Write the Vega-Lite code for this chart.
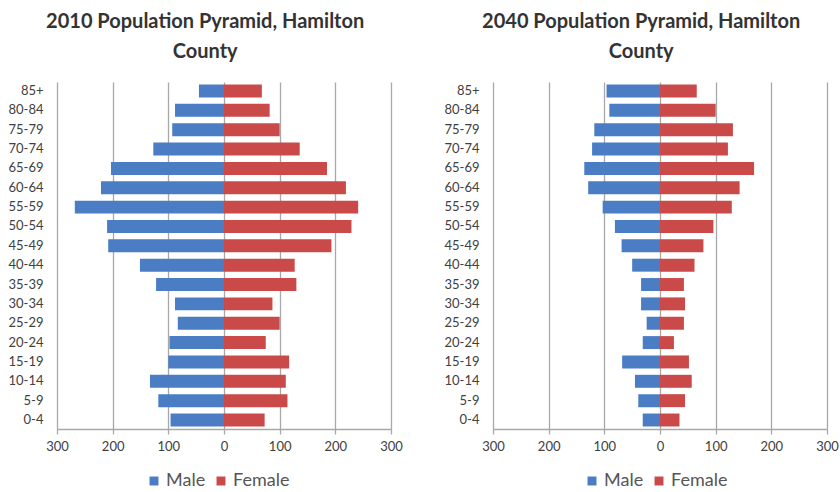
{
  "$schema": "https://vega.github.io/schema/vega-lite/v6.json",
  "background": "white",
  "padding": {"left": 8, "top": 12, "right": 2, "bottom": 0},
  "config": {
    "font": "Lato",
    "view": {"stroke": null},
    "concat": {"spacing": 41},
    "title": {"fontSize": 20, "fontWeight": "bold", "color": "#333333", "lineHeight": 30, "anchor": "middle", "frame": "bounds", "offset": 20},
    "axis": {"labelColor": "#404040", "labelFontSize": 13, "title": null}
  },
  "datasets": {
    "pyramid": [
      {"year": "2010", "age": "85+", "sex": "Male", "pop": 45},
      {"year": "2010", "age": "80-84", "sex": "Male", "pop": 88},
      {"year": "2010", "age": "75-79", "sex": "Male", "pop": 93},
      {"year": "2010", "age": "70-74", "sex": "Male", "pop": 127},
      {"year": "2010", "age": "65-69", "sex": "Male", "pop": 203},
      {"year": "2010", "age": "60-64", "sex": "Male", "pop": 221},
      {"year": "2010", "age": "55-59", "sex": "Male", "pop": 268},
      {"year": "2010", "age": "50-54", "sex": "Male", "pop": 210},
      {"year": "2010", "age": "45-49", "sex": "Male", "pop": 208},
      {"year": "2010", "age": "40-44", "sex": "Male", "pop": 151},
      {"year": "2010", "age": "35-39", "sex": "Male", "pop": 122},
      {"year": "2010", "age": "30-34", "sex": "Male", "pop": 88},
      {"year": "2010", "age": "25-29", "sex": "Male", "pop": 83},
      {"year": "2010", "age": "20-24", "sex": "Male", "pop": 98},
      {"year": "2010", "age": "15-19", "sex": "Male", "pop": 100},
      {"year": "2010", "age": "10-14", "sex": "Male", "pop": 133},
      {"year": "2010", "age": "5-9", "sex": "Male", "pop": 118},
      {"year": "2010", "age": "0-4", "sex": "Male", "pop": 96},
      {"year": "2010", "age": "85+", "sex": "Female", "pop": 68},
      {"year": "2010", "age": "80-84", "sex": "Female", "pop": 82},
      {"year": "2010", "age": "75-79", "sex": "Female", "pop": 100},
      {"year": "2010", "age": "70-74", "sex": "Female", "pop": 136},
      {"year": "2010", "age": "65-69", "sex": "Female", "pop": 185},
      {"year": "2010", "age": "60-64", "sex": "Female", "pop": 219},
      {"year": "2010", "age": "55-59", "sex": "Female", "pop": 241},
      {"year": "2010", "age": "50-54", "sex": "Female", "pop": 229},
      {"year": "2010", "age": "45-49", "sex": "Female", "pop": 193},
      {"year": "2010", "age": "40-44", "sex": "Female", "pop": 127},
      {"year": "2010", "age": "35-39", "sex": "Female", "pop": 130},
      {"year": "2010", "age": "30-34", "sex": "Female", "pop": 87},
      {"year": "2010", "age": "25-29", "sex": "Female", "pop": 100},
      {"year": "2010", "age": "20-24", "sex": "Female", "pop": 75},
      {"year": "2010", "age": "15-19", "sex": "Female", "pop": 117},
      {"year": "2010", "age": "10-14", "sex": "Female", "pop": 111},
      {"year": "2010", "age": "5-9", "sex": "Female", "pop": 114},
      {"year": "2010", "age": "0-4", "sex": "Female", "pop": 73},
      {"year": "2040", "age": "85+", "sex": "Male", "pop": 96},
      {"year": "2040", "age": "80-84", "sex": "Male", "pop": 91},
      {"year": "2040", "age": "75-79", "sex": "Male", "pop": 118},
      {"year": "2040", "age": "70-74", "sex": "Male", "pop": 122},
      {"year": "2040", "age": "65-69", "sex": "Male", "pop": 136},
      {"year": "2040", "age": "60-64", "sex": "Male", "pop": 129},
      {"year": "2040", "age": "55-59", "sex": "Male", "pop": 103},
      {"year": "2040", "age": "50-54", "sex": "Male", "pop": 81},
      {"year": "2040", "age": "45-49", "sex": "Male", "pop": 69},
      {"year": "2040", "age": "40-44", "sex": "Male", "pop": 50},
      {"year": "2040", "age": "35-39", "sex": "Male", "pop": 34},
      {"year": "2040", "age": "30-34", "sex": "Male", "pop": 34},
      {"year": "2040", "age": "25-29", "sex": "Male", "pop": 24},
      {"year": "2040", "age": "20-24", "sex": "Male", "pop": 31},
      {"year": "2040", "age": "15-19", "sex": "Male", "pop": 68},
      {"year": "2040", "age": "10-14", "sex": "Male", "pop": 45},
      {"year": "2040", "age": "5-9", "sex": "Male", "pop": 39},
      {"year": "2040", "age": "0-4", "sex": "Male", "pop": 31},
      {"year": "2040", "age": "85+", "sex": "Female", "pop": 66},
      {"year": "2040", "age": "80-84", "sex": "Female", "pop": 100},
      {"year": "2040", "age": "75-79", "sex": "Female", "pop": 131},
      {"year": "2040", "age": "70-74", "sex": "Female", "pop": 122},
      {"year": "2040", "age": "65-69", "sex": "Female", "pop": 169},
      {"year": "2040", "age": "60-64", "sex": "Female", "pop": 143},
      {"year": "2040", "age": "55-59", "sex": "Female", "pop": 129},
      {"year": "2040", "age": "50-54", "sex": "Female", "pop": 96},
      {"year": "2040", "age": "45-49", "sex": "Female", "pop": 78},
      {"year": "2040", "age": "40-44", "sex": "Female", "pop": 62},
      {"year": "2040", "age": "35-39", "sex": "Female", "pop": 43},
      {"year": "2040", "age": "30-34", "sex": "Female", "pop": 45},
      {"year": "2040", "age": "25-29", "sex": "Female", "pop": 43},
      {"year": "2040", "age": "20-24", "sex": "Female", "pop": 25},
      {"year": "2040", "age": "15-19", "sex": "Female", "pop": 52},
      {"year": "2040", "age": "10-14", "sex": "Female", "pop": 57},
      {"year": "2040", "age": "5-9", "sex": "Female", "pop": 45},
      {"year": "2040", "age": "0-4", "sex": "Female", "pop": 35}
    ]
  },
  "data": {"name": "pyramid"},
  "transform": [
    {"calculate": "datum.sex === 'Male' ? -datum.pop : datum.pop", "as": "side"}
  ],
  "hconcat": [
    {
      "width": 334,
      "height": 347,
      "title": {"text": ["2010 Population Pyramid, Hamilton", "County"]},
      "transform": [{"filter": "datum.year === '2010'"}],
      "mark": {"type": "bar"},
      "encoding": {
        "y": {
          "field": "age", "type": "nominal",
          "sort": ["85+", "80-84", "75-79", "70-74", "65-69", "60-64", "55-59", "50-54", "45-49", "40-44", "35-39", "30-34", "25-29", "20-24", "15-19", "10-14", "5-9", "0-4"],
          "scale": {"paddingInner": 0.33, "paddingOuter": 0.13},
          "axis": {"domain": false, "ticks": false, "grid": false, "labelPadding": 14}
        },
        "x": {
          "field": "side", "type": "quantitative",
          "scale": {"domain": [-300, 300], "nice": false},
          "axis": {
            "values": [-300, -200, -100, 0, 100, 200, 300],
            "labelExpr": "abs(datum.value)", "labelFlush": false,
            "grid": true, "gridColor": "#a8a8a8", "gridWidth": 1.3,
            "domainColor": "#a8a8a8", "domainWidth": 1.3,
            "tickColor": "#a8a8a8", "tickWidth": 1.3, "tickSize": 5,
            "labelPadding": 6
          }
        },
        "color": {
          "field": "sex", "type": "nominal",
          "scale": {"domain": ["Male", "Female"], "range": ["#4a7dc4", "#c94a48"]},
          "legend": {
            "title": null, "orient": "none", "legendX": 88, "legendY": 390,
            "direction": "horizontal", "symbolType": "square", "symbolSize": 80,
            "symbolStrokeWidth": 0, "labelFontSize": 18, "labelColor": "#555555",
            "columnPadding": 6, "labelOffset": 3
          }
        }
      }
    },
    {
      "width": 334,
      "height": 347,
      "title": {"text": ["2040 Population Pyramid, Hamilton", "County"]},
      "transform": [{"filter": "datum.year === '2040'"}],
      "mark": {"type": "bar"},
      "encoding": {
        "y": {
          "field": "age", "type": "nominal",
          "sort": ["85+", "80-84", "75-79", "70-74", "65-69", "60-64", "55-59", "50-54", "45-49", "40-44", "35-39", "30-34", "25-29", "20-24", "15-19", "10-14", "5-9", "0-4"],
          "scale": {"paddingInner": 0.33, "paddingOuter": 0.13},
          "axis": {"domain": false, "ticks": false, "grid": false, "labelPadding": 14}
        },
        "x": {
          "field": "side", "type": "quantitative",
          "scale": {"domain": [-300, 300], "nice": false},
          "axis": {
            "values": [-300, -200, -100, 0, 100, 200, 300],
            "labelExpr": "abs(datum.value)", "labelFlush": false,
            "grid": true, "gridColor": "#a8a8a8", "gridWidth": 1.3,
            "domainColor": "#a8a8a8", "domainWidth": 1.3,
            "tickColor": "#a8a8a8", "tickWidth": 1.3, "tickSize": 5,
            "labelPadding": 6
          }
        },
        "color": {
          "field": "sex", "type": "nominal",
          "scale": {"domain": ["Male", "Female"], "range": ["#4a7dc4", "#c94a48"]},
          "legend": {
            "title": null, "orient": "none", "legendX": 90, "legendY": 390,
            "direction": "horizontal", "symbolType": "square", "symbolSize": 80,
            "symbolStrokeWidth": 0, "labelFontSize": 18, "labelColor": "#555555",
            "columnPadding": 6, "labelOffset": 3
          }
        }
      }
    }
  ],
  "resolve": {"scale": {"color": "independent"}, "legend": {"color": "independent"}}
}
